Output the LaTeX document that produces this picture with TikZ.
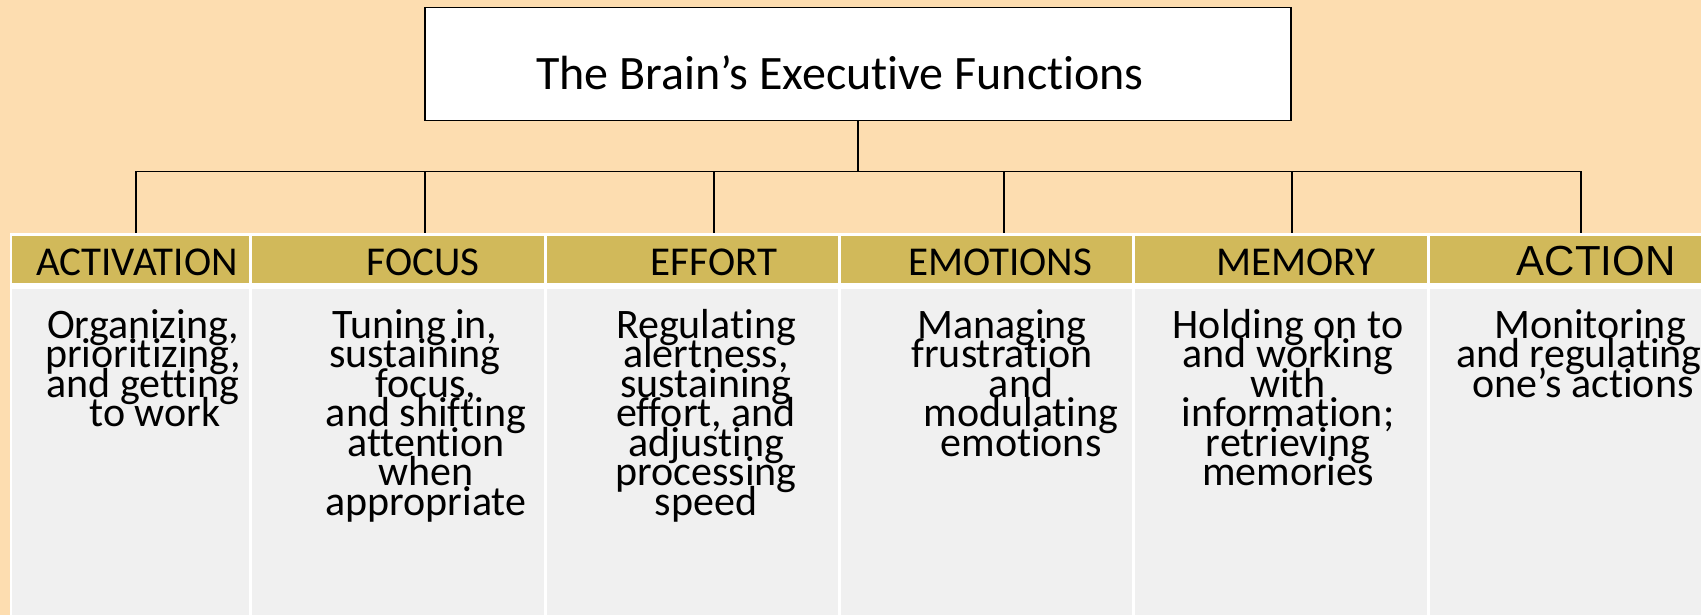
\documentclass[tikz,border=0pt]{standalone}
\usepackage{fontspec}
\newfontfamily\calibrifont[Ligatures={NoCommon,NoContextual,NoRare},Contextuals=NoAlternate]{Carlito}
\newfontfamily\arialfont{Liberation Sans}
\definecolor{peach}{RGB}{253,221,176}
\definecolor{gold}{RGB}{209,185,90}
\definecolor{cellgrey}{RGB}{240,240,240}
\newcommand\titlefont{\calibrifont\fontsize{48}{48}\selectfont}
\newcommand\headfont{\calibrifont\fontsize{41}{41}\selectfont}
\newcommand\bodyfont{\calibrifont\fontsize{42}{29.5}\selectfont\lineskiplimit=-100pt\relax}

\begin{document}
\begin{tikzpicture}[x=1pt,y=1pt,yscale=-1,
  hdcell/.style={fill=gold},
  bdcell/.style={fill=cellgrey},
  hdtext/.style={inner sep=0pt,anchor=north,minimum height=59pt,font=\headfont},
  bdtext/.style={inner sep=0pt,anchor=north,align=center,font=\bodyfont},
  link/.style={line width=1.2pt}]
\useasboundingbox (0,0) rectangle (1701,615);
%Background
\fill[peach] (0,0) rectangle (1701,615);
%Table
\fill[white] (10,233) rectangle (1701,615);
%Header cells
\fill[hdcell] (12,236) rectangle (249,283);
\fill[hdcell] (252,236) rectangle (544,283);
\fill[hdcell] (547,236) rectangle (838,283);
\fill[hdcell] (841,236) rectangle (1132,283);
\fill[hdcell] (1135,236) rectangle (1427,283);
\fill[hdcell] (1430,236) rectangle (1701,283);
%Body cells
\fill[bdcell] (12,289) rectangle (249,615);
\fill[bdcell] (252,289) rectangle (544,615);
\fill[bdcell] (547,289) rectangle (838,615);
\fill[bdcell] (841,289) rectangle (1132,615);
\fill[bdcell] (1135,289) rectangle (1427,615);
\fill[bdcell] (1430,289) rectangle (1701,615);

% Title Node
\node[draw,line width=1.3pt,fill=white,minimum width=866pt,minimum height=113pt,inner sep=0pt,text height=52pt,text depth=0pt,font=\titlefont] (title) at (858,64) {\hspace*{-36pt}The Brain’s Executive Functions};

% Header Nodes
\node[hdtext] (hact) at (137,233) {ACTIVATION};
\node[hdtext] (hfoc) at (423,233) {FOCUS};
\node[hdtext] (heff) at (714,233) {EFFORT};
\node[hdtext] (hemo) at (1000,233) {EMOTIONS};
\node[hdtext] (hmem) at (1296,233) {MEMORY};
\node[hdtext,minimum height=56pt,font=\arialfont\fontsize{42}{42}\selectfont] (hacn) at (1596,233) {ACTION};

%Connectors
\draw[link] (title.south) -- ++(0,50) -| ([xshift=-1pt]hact.north);
\draw[link] (title.south) -- ++(0,50) -| ([xshift=2pt]hfoc.north);
\draw[link] (title.south) -- ++(0,50) -| (heff.north);
\draw[link] (title.south) -- ++(0,50) -| ([xshift=4pt]hemo.north);
\draw[link] (title.south) -- ++(0,50) -| ([xshift=-4pt]hmem.north);
\draw[link] (title.south) -- ++(0,50) -| ([xshift=-15pt]hacn.north);

% Body Text Nodes
\node[bdtext] (bact) at (143,309) {Organizing,\\prioritizing,\\and getting\\\hspace*{24pt}to work};
\node[bdtext] (bfoc) at (415,309) {Tuning in,\\sustaining\\\hspace*{22pt}focus,\\\hspace*{22pt}and shifting\\\hspace*{22pt}attention\\\hspace*{22pt}when\\\hspace*{22pt}appropriate};
\node[bdtext] (beff) at (706,309) {Regulating\\alertness,\\sustaining\\effort, and\\adjusting\\processing\\speed};
\node[bdtext] (bemo) at (1002,309) {Managing\\frustration\\\hspace*{38pt}and\\\hspace*{38pt}modulating\\\hspace*{38pt}emotions};
\node[bdtext] (bmem) at (1288,309) {Holding on to\\and working\\with\\information;\\retrieving\\memories};
\node[bdtext] (bacn) at (1579,309) {\hspace*{22pt}Monitoring\\and regulating\\\hspace*{8pt}one’s actions};

\end{tikzpicture}
\end{document}
